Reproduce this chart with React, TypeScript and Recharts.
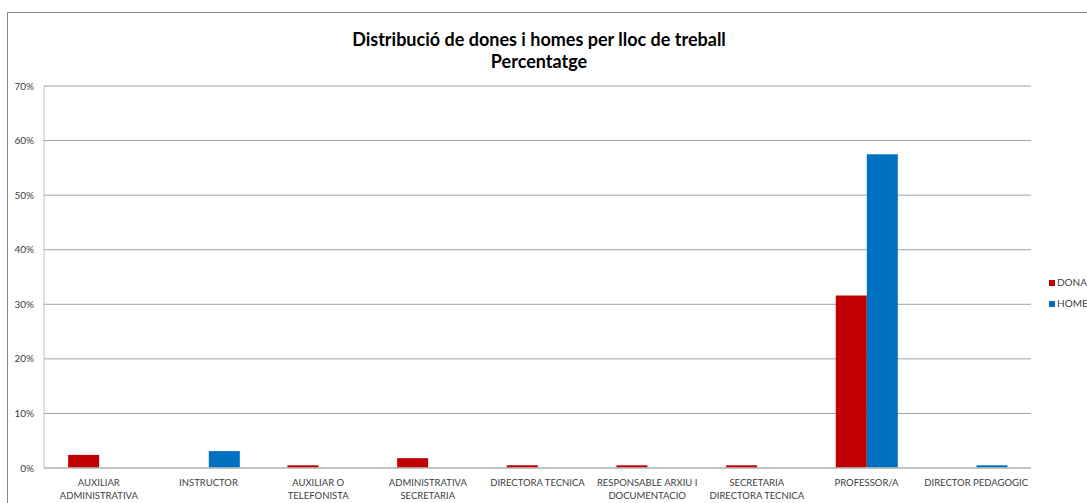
import { BarChart, Bar, XAxis, YAxis, CartesianGrid } from 'recharts'

// Categories (line breaks as in the original wrapped labels)
const categories = [
  'AUXILIAR\nADMINISTRATIVA',
  'INSTRUCTOR',
  'AUXILIAR O\nTELEFONISTA',
  'ADMINISTRATIVA\nSECRETARIA',
  'DIRECTORA TECNICA',
  'RESPONSABLE ARXIU I\nDOCUMENTACIO',
  'SECRETARIA\nDIRECTORA TECNICA',
  'PROFESSOR/A',
  'DIRECTOR PEDAGOGIC',
]

// Percentages
const dona = [2.4, 0, 0.5, 1.8, 0.5, 0.5, 0.5, 31.6, 0]
const home = [0, 3.1, 0, 0, 0, 0, 0, 57.5, 0.5]

const yTicks = [0, 10, 20, 30, 40, 50, 60, 70]

const DONA_COLOR = '#C00000'
const HOME_COLOR = '#0070C0'
const FONT = 'Lato, "Open Sans", sans-serif'

const data = categories.map((name, i) => ({ name, dona: dona[i], home: home[i] }))

function CategoryTick({ x, y, payload }: any) {
  const lines = String(payload.value).split('\n')
  return (
    <text x={x} y={y} textAnchor="middle" fill="#404040" fontSize={9.5} fontFamily={FONT}>
      {lines.map((line, i) => (
        <tspan key={i} x={x} dy={i === 0 ? 10 : 13}>
          {line}
        </tspan>
      ))}
    </text>
  )
}

export default function App() {
  return (
    <div style={{ position: 'absolute', left: 0, top: 0, width: 1087, height: 503, overflow: 'hidden', background: '#fff' }}>
      <div
        style={{
          position: 'absolute',
          left: 7,
          top: 12,
          width: 1200,
          height: 600,
          border: '1px solid #898989',
        }}
      />
      <div
        style={{
          position: 'absolute',
          left: 0,
          width: 1078,
          top: 28,
          textAlign: 'center',
          fontFamily: FONT,
          fontWeight: 700,
          fontSize: 18,
          lineHeight: '22px',
          color: '#000',
        }}
      >
        Distribució de dones i homes per lloc de treball
        <br />
        Percentatge
      </div>
      <div style={{ position: 'absolute', left: 0, top: 0 }}>
        <BarChart
          width={1087}
          height={503}
          data={data}
          margin={{ top: 86, right: 56, left: 0, bottom: 0 }}
          barCategoryGap="22%"
          barGap={0}
        >
          <CartesianGrid vertical={false} stroke="#a0a0a0" />
          <XAxis
            dataKey="name"
            interval={0}
            tickLine={false}
            axisLine={{ stroke: '#bfbfbf', strokeWidth: 1.5 }}
            tick={<CategoryTick />}
            height={35}
          />
          <YAxis
            width={44}
            domain={[0, 70]}
            ticks={yTicks}
            tickFormatter={(v) => `${v}%`}
            tickLine={false}
            tickMargin={4}
            axisLine={{ stroke: '#bfbfbf' }}
            tick={{ fontSize: 10, fill: '#404040', fontFamily: FONT }}
          />
          <Bar dataKey="dona" fill={DONA_COLOR} isAnimationActive={false} />
          <Bar dataKey="home" fill={HOME_COLOR} isAnimationActive={false} />
        </BarChart>
      </div>
      <div style={{ position: 'absolute', left: 1049, top: 272, fontFamily: FONT, fontSize: 10, color: '#404040', lineHeight: '21px', whiteSpace: 'nowrap' }}>
        <div style={{ display: 'flex', alignItems: 'center' }}>
          <span style={{ width: 6, height: 6, background: DONA_COLOR, marginRight: 2, flexShrink: 0 }} />
          DONA
        </div>
        <div style={{ display: 'flex', alignItems: 'center' }}>
          <span style={{ width: 6, height: 6, background: HOME_COLOR, marginRight: 2, flexShrink: 0 }} />
          HOME
        </div>
      </div>
    </div>
  )
}
